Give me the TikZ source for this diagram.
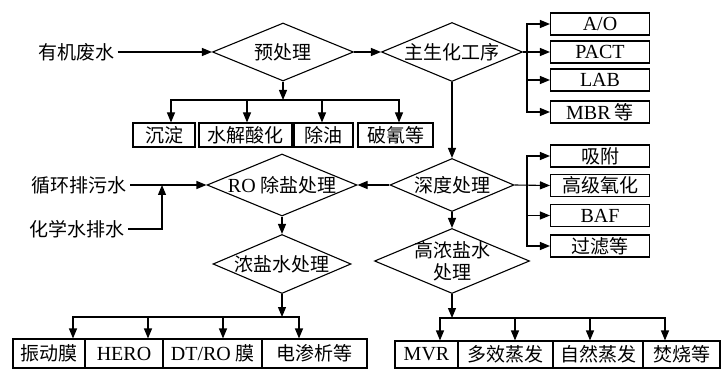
\documentclass[tikz,border=0pt]{standalone}
\usepackage{fontspec}
\setmainfont{Liberation Serif}
\newfontfamily\cjk{Noto Sans CJK SC}
\usepackage{tikz}
\usetikzlibrary{arrows.meta,shapes.geometric,calc}

\begin{document}
\begin{tikzpicture}[x=1pt, y=-1pt,
  font=\fontsize{19}{22}\cjk,
  dia/.style={diamond, draw, line width=1.1pt, inner sep=0pt},
  box/.style={draw, line width=1.1pt, inner sep=0pt, minimum width=#1},
  arr/.style={-{Triangle[length=10pt,width=8pt]}, line width=1.1pt},
  ln/.style={line width=1.1pt}
]
\useasboundingbox (0,0) rectangle (721,377);

\node (waste) at (76,52) {有机废水};
\node[dia, minimum width=141pt, minimum height=58pt, label=center:预处理] (pre) at (283,52) {};
\node[dia, minimum width=141pt, minimum height=59pt, label=center:主生化工序] (bio) at (452,52) {};
\draw[arr] (waste.east) -- (pre.west);
\draw[arr] (pre.east) -- (bio.west);

\node[box=99pt, minimum height=22pt] (ao) at (600,24) {\rmfamily\fontsize{20}{22}\selectfont A/O};
\node[box=99pt, minimum height=22pt] (pact) at (600,52) {\rmfamily\fontsize{20}{22}\selectfont PACT};
\node[box=99pt, minimum height=22pt] (lab) at (600,80) {\rmfamily\fontsize{20}{22}\selectfont LAB};
\node[box=99pt, minimum height=22pt] (mbr) at (600,112) {{\rmfamily\fontsize{20}{22}\selectfont MBR} 等};
\coordinate (bj) at (527,52);
\draw[arr] (bio.east) -- (pact.west);
\draw[arr] (bj) |- (ao.west);
\draw[arr] (bj) |- (lab.west);
\draw[arr] (bj) |- (mbr.west);

\node[box=62pt, minimum height=24pt] (chen) at (164,135) {沉淀};
\node[box=93pt, minimum height=24pt] (shui) at (245.5,135) {水解酸化};
\node[box=59pt, minimum height=24pt] (youf) at (323.5,135) {除油};
\node[box=75pt, minimum height=24pt] (po) at (395.5,135) {破氰等};
\coordinate (pj) at (283,100);
\draw[arr] (pre.south) -- (pj);
\draw[arr] (pj) -| ([xshift=7pt]chen.north);
\draw[arr] (pj) -| ([xshift=1.5pt]shui.north);
\draw[arr] (pj) -| ([xshift=-1.5pt]youf.north);
\draw[arr] (pj) -| ([xshift=3.5pt]po.north);

\node[dia, minimum width=124pt, minimum height=53pt, label=center:深度处理] (deep) at (452,185) {};
\draw[arr] (bio.south) -- (deep.north);
\node[box=99pt, minimum height=22pt] (xf) at (600,156) {吸附};
\node[box=99pt, minimum height=22pt] (gj) at (600,185.5) {高级氧化};
\node[box=99pt, minimum height=22pt] (baf) at (600,215.5) {\rmfamily\fontsize{20}{22}\selectfont BAF};
\node[box=99pt, minimum height=22pt] (gl) at (600,246) {过滤等};
\coordinate (dj) at (527,185);
\draw[arr] (deep.east) -- (gj.west);
\draw[arr] (dj) |- (xf.west);
\draw[arr] (dj) |- (baf.west);
\draw[arr] (dj) |- (gl.west);

\node[dia, minimum width=150pt, minimum height=62pt, label=center:{{\rmfamily\fontsize{20}{22}\selectfont RO} 除盐处理}] (ro) at (282,185) {};
\draw[arr] (deep.west) -- (ro.east);
\node (cyc) at (79,185) {循环排污水};
\node (chem) at (77,229) {化学水排水};
\coordinate (mj) at (162,185);
\draw[arr] (cyc.east) -- (ro.west);
\draw[arr] (chem.east) -| (mj);

\node[dia, minimum width=138pt, minimum height=59pt, label=center:浓盐水处理] (conc) at (282,264) {};
\draw[arr] (ro.south) -- (conc.north);
\node[box=72pt, minimum height=29pt] (zd) at (49,353.5) {振动膜};
\node[box=78pt, minimum height=29pt] (hero) at (124,353.5) {\rmfamily\fontsize{20}{22}\selectfont HERO};
\node[box=99pt, minimum height=29pt] (dtro) at (212.5,353.5) {{\rmfamily\fontsize{20}{22}\selectfont DT/RO} 膜};
\node[box=105pt, minimum height=29pt] (eds) at (314.5,353.5) {电渗析等};
\coordinate (cj) at (282,317);
\draw[arr] (conc.south) -- (cj);
\draw[arr] (cj) -| ([xshift=24pt]zd.north);
\draw[arr] (cj) -| ([xshift=24pt]hero.north);
\draw[arr] (cj) -| ([xshift=10.5pt]dtro.north);
\draw[arr] (cj) -| ([xshift=-15.5pt]eds.north);

\node[dia, minimum width=155pt, minimum height=65pt, label={[align=center]center:高浓盐水\\处理}] (high) at (452,261) {};
\draw[arr] (deep.south) -- (high.north);
\node[box=63pt, minimum height=27pt] (mvr) at (426.5,354.5) {\rmfamily\fontsize{20}{22}\selectfont MVR};
\node[box=95pt, minimum height=27pt] (dx) at (505.5,354.5) {多效蒸发};
\node[box=90pt, minimum height=27pt] (zr) at (598,354.5) {自然蒸发};
\node[box=77pt, minimum height=27pt] (fs) at (681.5,354.5) {焚烧等};
\coordinate (hj) at (452,318);
\draw[arr] (high.south) -- (hj);
\draw[arr] (hj) -| ([xshift=13.5pt]mvr.north);
\draw[arr] (hj) -| ([xshift=9.5pt]dx.north);
\draw[arr] (hj) -| ([xshift=-8pt]zr.north);
\draw[arr] (hj) -| ([xshift=-16.5pt]fs.north);
\end{tikzpicture}
\end{document}
